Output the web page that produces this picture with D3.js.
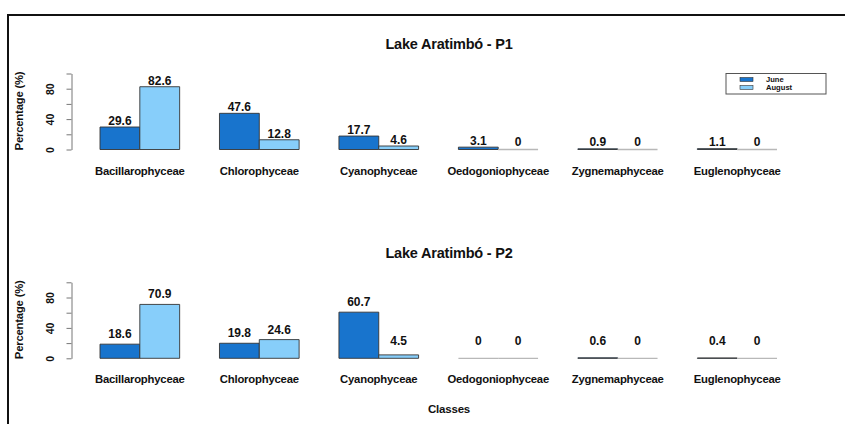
<!DOCTYPE html>
<html>
<head>
<meta charset="utf-8">
<script src="https://cdn.jsdelivr.net/npm/d3@7"></script>
<style>
  html, body { margin: 0; padding: 0; background: #fff; }
  svg { display: block; font-family: "Liberation Sans", Arial, sans-serif; font-weight: bold; }
</style>
</head>
<body>
<svg id="chart" width="845" height="424"></svg>
<script>
// Phytoplankton class composition (%) at two sampling points, June vs August
const classes = ["Bacillarophyceae", "Chlorophyceae", "Cyanophyceae", "Oedogoniophyceae", "Zygnemaphyceae", "Euglenophyceae"];
const months = ["June", "August"];
const juneP1 = [29.6, 47.6, 17.7, 3.1, 0.9, 1.1];
const augustP1 = [82.6, 12.8, 4.6, 0, 0, 0];
const juneP2 = [18.6, 19.8, 60.7, 0, 0.6, 0.4];
const augustP2 = [70.9, 24.6, 4.5, 0, 0, 0];
const yTicks = [0, 20, 40, 60, 80, 100];
const yTickLabels = [0, 40, 80];
const panelTitles = ["Lake Aratimbó - P1", "Lake Aratimbó - P2"];

const colors = { June: "#1874CD", August: "#87CEFA" };

const svg = d3.select("#chart");

// outer frame (open on the right and bottom)
svg.append("path")
  .attr("d", "M8,430 L8,15 L850,15")
  .attr("fill", "none")
  .attr("stroke", "#111")
  .attr("stroke-width", 2);

const x = d3.scaleBand()
  .domain(classes)
  .range([100, 777])
  .paddingInner(1 / 3)
  .paddingOuter(0);

const xm = d3.scaleBand()
  .domain(months)
  .range([0, x.bandwidth()]);

const panels = [
  { title: panelTitles[0], june: juneP1, august: augustP1, zeroY: 149.5, titleY: 44, labelGap: 6, labelMin: 1.5 },
  { title: panelTitles[1], june: juneP2, august: augustP2, zeroY: 358.3, titleY: 253.3, labelGap: 10, labelMin: 9 }
];

panels.forEach(p => {
  const y = d3.scaleLinear().domain([0, 100]).range([p.zeroY, p.zeroY - 76]);
  const g = svg.append("g");

  const rows = classes.map((c, i) => ({ cls: c, June: p.june[i], August: p.august[i] }));

  const groups = g.selectAll("g.grp")
    .data(rows)
    .join("g")
    .attr("class", "grp")
    .attr("transform", d => `translate(${x(d.cls)},0)`);

  // bars as closed paths so that zero-height bars still show their outline
  groups.selectAll("path.bar")
    .data(d => months.map(m => ({ m, v: d[m] })))
    .join("path")
    .attr("class", "bar")
    .attr("d", d => {
      const x0 = xm(d.m), x1 = x0 + xm.bandwidth();
      const y0 = y(0), y1 = y(d.v);
      return `M${x0},${y0}V${y1}H${x1}V${y0}Z`;
    })
    .attr("fill", d => colors[d.m])
    .attr("stroke", d => d.v === 0 ? "#b8b8b8" : "#333")
    .attr("stroke-width", d => d.v === 0 ? 1.3 : 0.9);

  // value labels
  groups.selectAll("text.val")
    .data(d => months.map(m => ({ m, v: d[m] })))
    .join("text")
    .attr("class", "val")
    .attr("x", d => xm(d.m) + xm.bandwidth() / 2)
    .attr("y", d => y(Math.max(d.v, p.labelMin)) - p.labelGap)
    .attr("text-anchor", "middle")
    .attr("dominant-baseline", "central")
    .attr("font-size", 12)
    .attr("fill", "#111")
    .text(d => d.v);

  // category labels
  g.selectAll("text.cat")
    .data(classes)
    .join("text")
    .attr("class", "cat")
    .attr("x", d => x(d) + x.bandwidth() / 2)
    .attr("y", p.zeroY + 21)
    .attr("dominant-baseline", "central")
    .attr("text-anchor", "middle")
    .attr("font-size", 11.3)
    .attr("letter-spacing", -0.2)
    .attr("fill", "#111")
    .text(d => d);

  // y axis
  const axis = d3.axisLeft(y)
    .tickValues(yTicks)
    .tickSize(5)
    .tickSizeOuter(0)
    .tickFormat(d => yTickLabels.includes(d) ? d : "");

  const ag = g.append("g")
    .attr("transform", "translate(71.5,0)")
    .call(axis);
  ag.select(".domain").attr("stroke", "#777");
  ag.selectAll(".tick line").attr("stroke", "#777");
  ag.selectAll(".tick text")
    .attr("x", null)
    .attr("dy", null)
    .attr("transform", "translate(-21.5,0) rotate(-90)")
    .attr("text-anchor", "middle")
    .attr("dominant-baseline", "central")
    .attr("font-size", 10.5)
    .attr("font-family", "Liberation Sans, Arial, sans-serif")
    .attr("font-weight", "bold")
    .attr("fill", "#111");

  // y axis title
  g.append("text")
    .attr("transform", `translate(18.5,${p.zeroY - 38.5}) rotate(-90)`)
    .attr("text-anchor", "middle")
    .attr("dominant-baseline", "central")
    .attr("font-size", 11.3)
    .attr("letter-spacing", -0.2)
    .attr("fill", "#111")
    .text("Percentage (%)");

  // panel title
  g.append("text")
    .attr("x", 449)
    .attr("y", p.titleY)
    .attr("text-anchor", "middle")
    .attr("dominant-baseline", "central")
    .attr("font-size", 14.5)
    .attr("letter-spacing", -0.2)
    .attr("fill", "#111")
    .text(p.title);
});

// legend
const lg = svg.append("g");
lg.append("rect")
  .attr("x", 726).attr("y", 73.5)
  .attr("width", 100).attr("height", 20.5)
  .attr("fill", "#fff")
  .attr("stroke", "#555")
  .attr("stroke-width", 1);
months.forEach((m, i) => {
  lg.append("rect")
    .attr("x", 740).attr("y", 77.5 + i * 8)
    .attr("width", 13).attr("height", 4)
    .attr("fill", colors[m])
    .attr("stroke", "#333")
    .attr("stroke-width", 0.6);
  lg.append("text")
    .attr("x", 766).attr("y", 79.5 + i * 8)
    .attr("dominant-baseline", "central")
    .attr("font-size", 7.6)
    .attr("fill", "#111")
    .text(m);
});

// x axis title
svg.append("text")
  .attr("x", 449)
  .attr("y", 409)
  .attr("text-anchor", "middle")
  .attr("dominant-baseline", "central")
  .attr("font-size", 11.5)
  .attr("letter-spacing", -0.2)
  .attr("fill", "#111")
  .text("Classes");
</script>
</body>
</html>
